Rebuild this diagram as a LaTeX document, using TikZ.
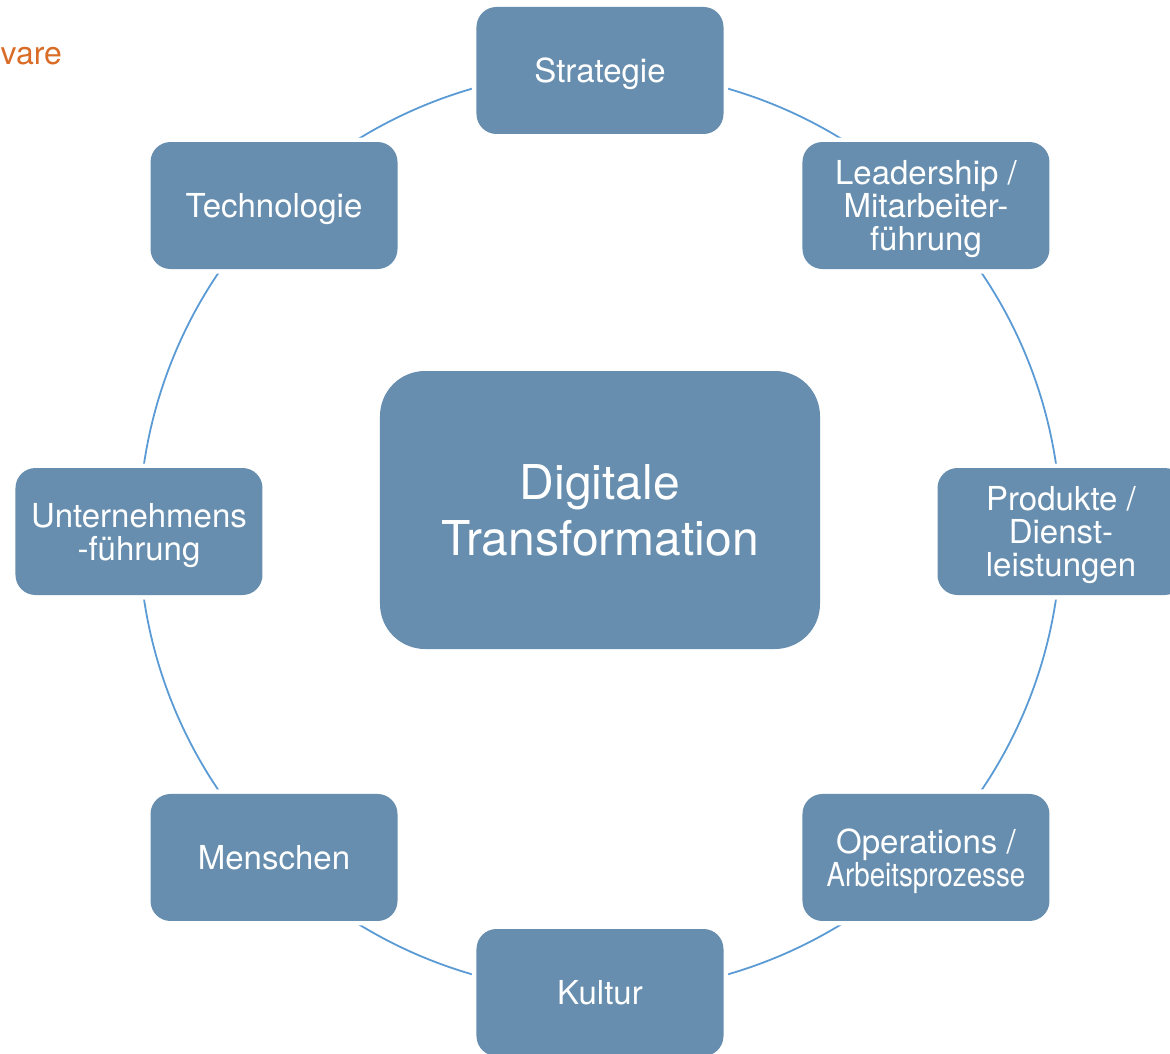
\documentclass[tikz,border=0pt]{standalone}
\usepackage{fontspec}
\setmainfont{TeX Gyre Heros}
\usepackage{graphicx}
\usepackage{xcolor}
\usepackage{tikz}
\usetikzlibrary{positioning, backgrounds}
\definecolor{stageblue}{RGB}{103,142,174}
\definecolor{ringblue}{RGB}{91,155,213}
\definecolor{brandorange}{RGB}{217,108,38}
\tikzstyle{stage} = [rectangle, rounded corners=20pt, minimum width=247pt, minimum height=127pt, inner sep=0pt, text depth=0pt, align=center, text=white, fill=stageblue, font=\fontsize{33}{33}\selectfont, preaction={draw=white, line width=9pt}]
\tikzstyle{core} = [rectangle, rounded corners=45pt, minimum width=440pt, minimum height=278pt, inner sep=0pt, align=center, text=white, fill=stageblue, font=\fontsize{48}{56}\selectfont]
\tikzstyle{ring} = [draw=ringblue, line width=1.8pt, bend right=22.5, looseness=0.885]

\begin{document}
\begin{tikzpicture}[x=1pt, y=1pt]
    \useasboundingbox (-600,-521.5) rectangle (570,531.5);

    % Centre
    \node[core] (digital) at (0,21.5) {Digitale\\Transformation};

    % Ring of stages
    \node[stage] (strategie) at (90:461) {Strategie};
    \node[stage] (leadership) at (45:461) {Leadership /\\Mitarbeiter-\\führung};
    \node[stage] (produkte) at (0:461) {Produkte /\\Dienst-\\leistungen};
    \node[stage] (operations) at (-45:461) {Operations /\\\scalebox{0.84}[1]{Arbeitsprozesse}};
    \node[stage] (kultur) at (-90:461) {Kultur};
    \node[stage] (menschen) at (-135:461) {Menschen};
    \node[stage] (fuehrung) at (180:461) {Unternehmens\\-führung};
    \node[stage] (technologie) at (135:461) {Technologie};

    % Heading
    \node[anchor=base west, inner sep=0pt, text=brandorange, font=\fontsize{32}{32}\selectfont] (heading) at (-599.5,466.5) {vare};

    % Ring arcs
    \begin{pgfonlayer}{background}
        \draw[ring] (strategie.center) to (technologie.center);
        \draw[ring] (technologie.center) to (fuehrung.center);
        \draw[ring] (fuehrung.center) to (menschen.center);
        \draw[ring] (menschen.center) to (kultur.center);
        \draw[ring] (kultur.center) to (operations.center);
        \draw[ring] (operations.center) to (produkte.center);
        \draw[ring] (produkte.center) to (leadership.center);
        \draw[ring] (leadership.center) to (strategie.center);
    \end{pgfonlayer}

\end{tikzpicture}
\end{document}
